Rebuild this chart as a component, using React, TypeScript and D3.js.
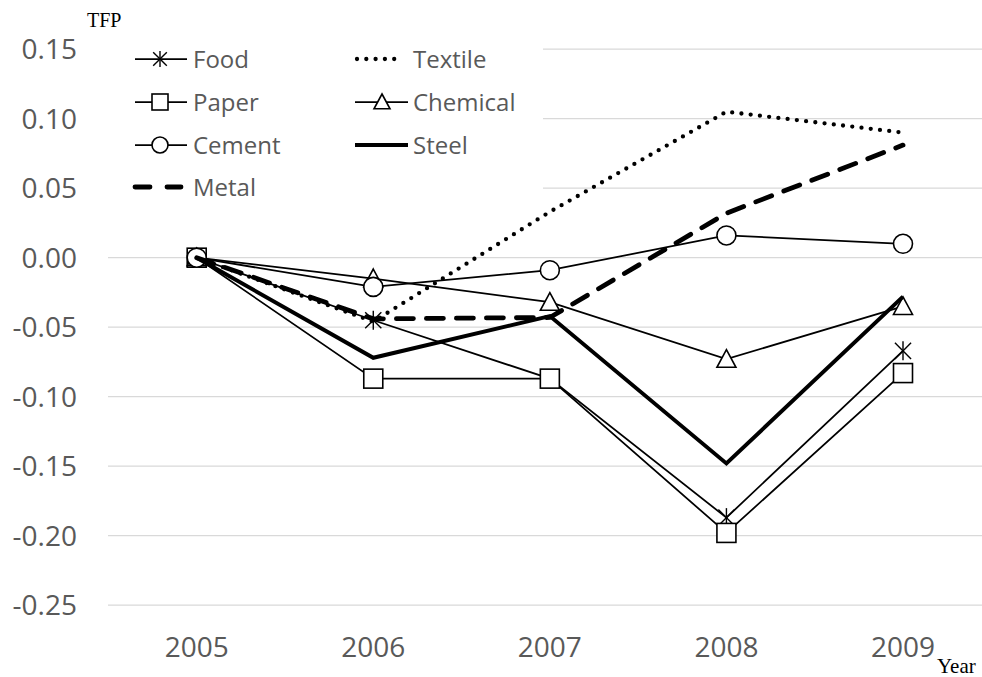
import React from "react";
import * as d3 from "d3";

const years = ["2005", "2006", "2007", "2008", "2009"];
const yTicks = [0.15, 0.1, 0.05, 0, -0.05, -0.1, -0.15, -0.2, -0.25];

const food = [0, -0.045, -0.087, -0.187, -0.067];
const textile = [0, -0.046, 0.033, 0.105, 0.09];
const paper = [0, -0.087, -0.087, -0.198, -0.083];
const chemical = [0, -0.015, -0.032, -0.073, -0.035];
const cement = [0, -0.021, -0.009, 0.016, 0.01];
const steel = [0, -0.072, -0.042, -0.148, -0.028];
const metal = [0, -0.044, -0.043, 0.032, 0.081];

type Style = {
  width: number;
  dash?: string;
  cap?: "round" | "butt";
  marker?: "star" | "square" | "triangle" | "circle";
};

const series: { name: string; values: number[]; style: Style }[] = [
  { name: "Food", values: food, style: { width: 1.75, marker: "star" } },
  { name: "Textile", values: textile, style: { width: 4.3, dash: "0 9.3", cap: "round" } },
  { name: "Paper", values: paper, style: { width: 1.75, marker: "square" } },
  { name: "Chemical", values: chemical, style: { width: 1.75, marker: "triangle" } },
  { name: "Cement", values: cement, style: { width: 1.75, marker: "circle" } },
  { name: "Steel", values: steel, style: { width: 4 } },
  { name: "Metal", values: metal, style: { width: 4.8, dash: "17 13", cap: "round" } },
];

const W = 982;
const H = 677;
const x = d3.scalePoint<string>().domain(years).range([196.7, 903]);
const y = d3.scaleLinear().domain([-0.25, 0.15]).range([605.2, 49.2]);

const GREY = "#595959";
const FONT = "'Open Sans', sans-serif";

function Marker({ type, cx, cy, s }: { type: string; cx: number; cy: number; s: number }) {
  const h = s / 2;
  const sw = 1.6;
  if (type === "square")
    return <rect x={cx - h} y={cy - h} width={s} height={s} fill="#fff" stroke="#000" strokeWidth={sw} />;
  if (type === "circle") return <circle cx={cx} cy={cy} r={h} fill="#fff" stroke="#000" strokeWidth={sw} />;
  if (type === "triangle") {
    const p = `${cx},${cy - h} ${cx + h},${cy + h * 0.85} ${cx - h},${cy + h * 0.85}`;
    return <polygon points={p} fill="#fff" stroke="#000" strokeWidth={sw} />;
  }
  if (type === "star") {
    const d = h * 0.85;
    return (
      <g stroke="#000" strokeWidth={1.4}>
        <line x1={cx} y1={cy - h} x2={cx} y2={cy + h} />
        <line x1={cx - d} y1={cy - d} x2={cx + d} y2={cy + d} />
        <line x1={cx - d} y1={cy + d} x2={cx + d} y2={cy - d} />
      </g>
    );
  }
  return null;
}

export default function App() {
  const line = d3
    .line<number>()
    .x((_, i) => x(years[i]) as number)
    .y((v) => y(v));

  const legendRows = [59, 102, 145, 187];
  const legendItems = [
    { s: series[0], col: 0, row: 0 },
    { s: series[1], col: 1, row: 0 },
    { s: series[2], col: 0, row: 1 },
    { s: series[3], col: 1, row: 1 },
    { s: series[4], col: 0, row: 2 },
    { s: series[5], col: 1, row: 2 },
    { s: series[6], col: 0, row: 3 },
  ];

  return (
    <svg
      width={W}
      height={H}
      style={{ position: "absolute", left: 0, top: 0, display: "block", background: "#fff" }}
    >
      <rect x={0} y={0} width={W} height={H} fill="#fff" />
      {yTicks.map((t) => (
        <g key={t}>
          <line x1={108} x2={W} y1={y(t)} y2={y(t)} stroke="#d9d9d9" strokeWidth={1.3} />
          <text x={77} y={y(t) + 10} textAnchor="end" fontFamily={FONT} fontSize={28} fill={GREY}>
            {t.toFixed(2)}
          </text>
        </g>
      ))}
      {years.map((yr) => (
        <text key={yr} x={x(yr)} y={657} textAnchor="middle" fontFamily={FONT} fontSize={28} fill={GREY}>
          {yr}
        </text>
      ))}
      <text x={87} y={26.5} fontFamily="'Liberation Serif', 'Times New Roman', serif" fontSize={20} fill="#000">
        TFP
      </text>
      <text x={937} y={673} fontFamily="'Liberation Serif', 'Times New Roman', serif" fontSize={21} fill="#000">
        Year
      </text>

      {/* legend box */}
      <rect x={108} y={36} width={435} height={168} fill="#fff" />

      {series.map((s) => (
        <g key={s.name}>
          <path
            d={line(s.values) || ""}
            fill="none"
            stroke="#000"
            strokeWidth={s.style.width}
            strokeDasharray={s.style.dash}
            strokeLinecap={s.style.cap || "butt"}
            strokeLinejoin="miter"
          />
          {s.style.marker &&
            s.values.map((v, i) => (
              <Marker key={i} type={s.style.marker!} cx={x(years[i]) as number} cy={y(v)} s={19} />
            ))}
        </g>
      ))}

      {legendItems.map(({ s, col, row }) => {
        const cy = legendRows[row];
        const x0 = col === 0 ? 135 : 355;
        const x1 = col === 0 ? 187 : 408;
        const mx = col === 0 ? 160 : 382;
        const tx = col === 0 ? 193 : 413;
        let sym: React.ReactNode;
        if (s.name === "Textile") {
          sym = (
            <line x1={x0 + 2} x2={403} y1={cy} y2={cy} stroke="#000" strokeWidth={4.3} strokeDasharray="0 9.3" strokeLinecap="round" />
          );
        } else if (s.name === "Metal") {
          sym = (
            <g stroke="#000" strokeWidth={4.8} strokeLinecap="round">
              <line x1={135} x2={150} y1={cy} y2={cy} />
              <line x1={167} x2={181} y1={cy} y2={cy} />
            </g>
          );
        } else {
          sym = (
            <g>
              <line x1={x0} x2={x1} y1={cy} y2={cy} stroke="#000" strokeWidth={s.style.width} />
              {s.style.marker && <Marker type={s.style.marker} cx={mx} cy={cy} s={16} />}
            </g>
          );
        }
        return (
          <g key={s.name}>
            {sym}
            <text x={tx} y={cy + 8.5} fontFamily={FONT} fontSize={24} fill={GREY}>
              {s.name}
            </text>
          </g>
        );
      })}
    </svg>
  );
}
